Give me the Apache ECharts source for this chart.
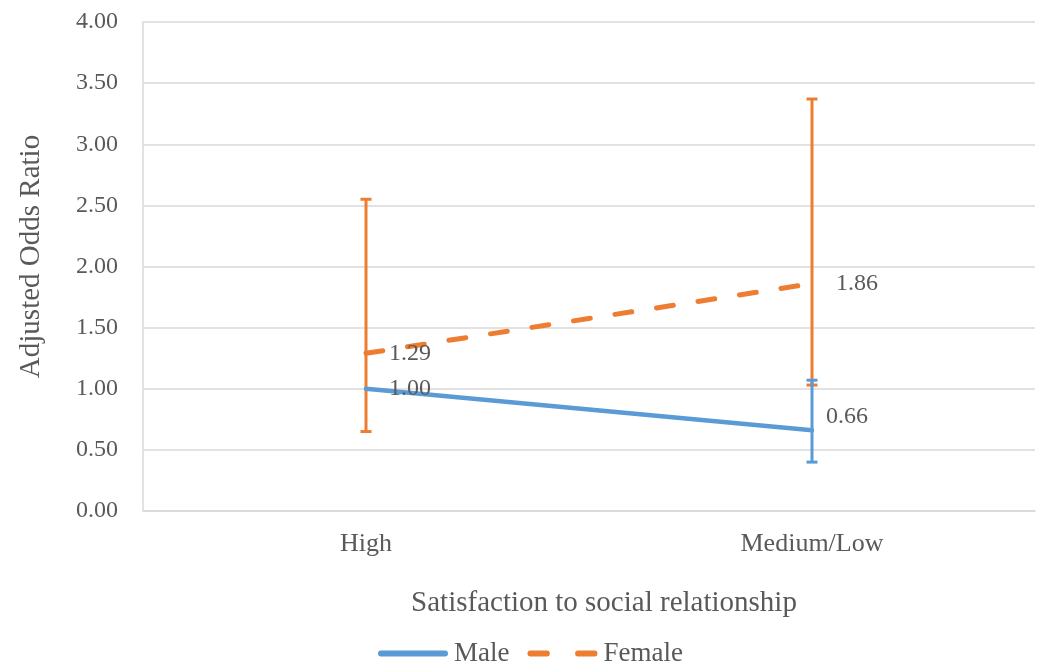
<!DOCTYPE html>
<html>
<head>
<meta charset="utf-8">
<title>Adjusted Odds Ratio by satisfaction to social relationship</title>
<script src="https://cdn.jsdelivr.net/npm/echarts@6/dist/echarts.min.js"></script>
<style>
  html, body { margin: 0; padding: 0; background: #ffffff; }
  #chart { width: 1037px; height: 663px; }
</style>
</head>
<body>
<div id="chart"></div>
<script>
// Categories of satisfaction to social relationship
const categories = ['High', 'Medium/Low'];

// Adjusted odds ratios
const maleOR = [1.00, 0.66];
const femaleOR = [1.29, 1.86];

// 95% confidence intervals (null = reference category, no interval)
const maleLow = [null, 0.40];
const maleHigh = [null, 1.07];
const femaleLow = [0.65, 1.03];
const femaleHigh = [2.55, 3.37];

// Y-axis range and tick step
const yMin = 0;
const yMax = 4;
const yStep = 0.5;

const BLUE = '#5B9BD5';
const ORANGE = '#ED7D31';
const TEXT = '#595959';
const GRID = '#D9D9D9';
const FONT = 'Liberation Serif';

// Legend keys: a solid rounded bar and two rounded dashes
const ICON_SOLID = 'path://M3,0H69A3,3,0,0,1,69,6H3A3,3,0,0,1,3,0Z';
const ICON_DASHED = 'path://M3,0H20A3,3,0,0,1,20,6H3A3,3,0,0,1,3,0Z' +
  'M52,0H69A3,3,0,0,1,69,6H52A3,3,0,0,1,52,0Z';

function ciData(lows, highs) {
  const out = [];
  lows.forEach(function (lo, i) {
    if (lo !== null && highs[i] !== null) out.push([i, lo, highs[i]]);
  });
  return out;
}

// Vertical interval with a short cap at each end
function errorBarRenderer(color) {
  return function (params, api) {
    const x = api.value(0);
    const lo = api.coord([x, api.value(1)]);
    const hi = api.coord([x, api.value(2)]);
    const half = 5.5;
    const style = { stroke: color, lineWidth: 3 };
    return {
      type: 'group',
      children: [
        { type: 'line', shape: { x1: lo[0], y1: lo[1], x2: hi[0], y2: hi[1] }, style: style },
        { type: 'line', shape: { x1: lo[0] - half, y1: lo[1], x2: lo[0] + half, y2: lo[1] }, style: style },
        { type: 'line', shape: { x1: hi[0] - half, y1: hi[1], x2: hi[0] + half, y2: hi[1] }, style: style }
      ]
    };
  };
}

const labelText = { fontFamily: FONT, fontSize: 24, color: TEXT };

const maleLabels = [
  { position: 'right', distance: 23, offset: [0, 0] },
  { position: 'right', distance: 14, offset: [0, -14] }
];
const femaleLabels = [
  { position: 'right', distance: 23, offset: [0, 0] },
  { position: 'right', distance: 24, offset: [0, 0] }
];

function pointsWithLabels(values, labelCfg) {
  return values.map(function (v, i) {
    return {
      value: v,
      label: Object.assign({ show: true, formatter: function (p) { return Number(p.value).toFixed(2); } }, labelText, labelCfg[i])
    };
  });
}

const chart = echarts.init(document.getElementById('chart'), null, { renderer: 'canvas' });

chart.setOption({
  animation: false,
  backgroundColor: '#ffffff',
  grid: { left: 143, right: 2, top: 22, bottom: 152, containLabel: false },
  legend: {
    top: 640,
    left: 378,
    itemWidth: 70,
    itemHeight: 6,
    itemGap: 18,
    padding: 0,
    itemStyle: { borderWidth: 0 },
    textStyle: { fontFamily: FONT, fontSize: 27, color: TEXT, padding: [0, 0, 0, 1] },
    data: [
      { name: 'Male', icon: ICON_SOLID, itemStyle: { color: BLUE } },
      { name: 'Female', icon: ICON_DASHED, itemStyle: { color: ORANGE } }
    ]
  },
  xAxis: {
    type: 'category',
    data: categories,
    boundaryGap: true,
    name: 'Satisfaction to social relationship',
    nameLocation: 'middle',
    nameGap: 78,
    nameTextStyle: { fontFamily: FONT, fontSize: 29, color: TEXT, padding: [0, 0, 0, 30] },
    axisLine: { show: true, lineStyle: { color: GRID, width: 1.5 } },
    axisTick: { show: false },
    axisLabel: { fontFamily: FONT, fontSize: 26, color: TEXT, margin: 20 },
    splitLine: { show: false }
  },
  yAxis: {
    type: 'value',
    min: yMin,
    max: yMax,
    interval: yStep,
    name: 'Adjusted Odds Ratio',
    nameLocation: 'middle',
    nameGap: 97,
    nameTextStyle: { fontFamily: FONT, fontSize: 29, color: TEXT, padding: [0, 0, 0, 20] },
    axisLine: { show: true, lineStyle: { color: GRID, width: 1.5 } },
    axisTick: { show: false },
    axisLabel: {
      fontFamily: FONT, fontSize: 24, color: TEXT, margin: 25,
      formatter: function (v) { return v.toFixed(2); }
    },
    splitLine: { show: true, lineStyle: { color: GRID, width: 1.5 } }
  },
  series: [
    {
      name: 'Female CI',
      type: 'custom',
      renderItem: errorBarRenderer(ORANGE),
      encode: { x: 0, y: [1, 2] },
      data: ciData(femaleLow, femaleHigh),
      z: 2
    },
    {
      name: 'Male CI',
      type: 'custom',
      renderItem: errorBarRenderer(BLUE),
      encode: { x: 0, y: [1, 2] },
      data: ciData(maleLow, maleHigh),
      z: 3
    },
    {
      name: 'Male',
      type: 'line',
      data: pointsWithLabels(maleOR, maleLabels),
      symbol: 'circle',
      symbolSize: 0,
      showSymbol: true,
      color: BLUE,
      lineStyle: { color: BLUE, width: 4.5, cap: 'round' },
      z: 4
    },
    {
      name: 'Female',
      type: 'line',
      data: pointsWithLabels(femaleOR, femaleLabels),
      symbol: 'circle',
      symbolSize: 0,
      showSymbol: true,
      color: ORANGE,
      lineStyle: { color: ORANGE, width: 5, type: [17, 25], cap: 'round' },
      z: 4
    }
  ]
});
</script>
</body>
</html>
